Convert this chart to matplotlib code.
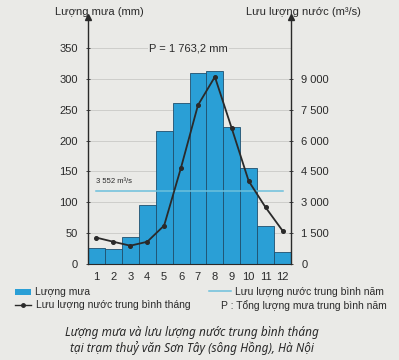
import matplotlib
matplotlib.use("Agg")
import matplotlib.pyplot as plt
from matplotlib.lines import Line2D

# Data
months = [1, 2, 3, 4, 5, 6, 7, 8, 9, 10, 11, 12]
rain_mm = [26, 25, 44, 96, 216, 261, 309, 313, 222, 156, 62, 19]
flow_m3s = [1280, 1080, 890, 1080, 1870, 4690, 7720, 9100, 6590, 4030, 2750, 1620]
flow_mean = 3552
rain_ticks = [0, 50, 100, 150, 200, 250, 300, 350]
flow_ticks = [0, 1500, 3000, 4500, 6000, 7500, 9000]
flow_ticklabels = ["0", "1 500", "3 000", "4 500", "6 000", "7 500", "9 000"]

BG = "#EAEAE7"
BAR = "#2A9FD6"
BAR_EDGE = "#1F4F6E"
INK = "#2A2A2A"
GRID = "#C9C9C6"
MEAN = "#6CC0DC"

plt.rcParams["font.family"] = ["Liberation Sans", "DejaVu Sans"]

fig = plt.figure(figsize=(3.99, 3.6), dpi=100, facecolor=BG)
ax = fig.add_axes([0.2206, 0.2667, 0.5087, 0.6856])
ax.set_facecolor(BG)
ax2 = ax.twinx()

ax.set_xlim(0.5, 12.5)
ax.set_ylim(0, 400)
ax2.set_ylim(0, 12000)

# faint grid lines behind the bars
for t in rain_ticks[1:]:
    ax.axhline(t, color=GRID, lw=0.6, zorder=0)

ax.bar(months, rain_mm, width=1.0, color=BAR, edgecolor=BAR_EDGE, linewidth=0.6, zorder=2)

ax2.plot(months, flow_m3s, color=INK, lw=1.3, marker="o", markersize=2.6, zorder=5)
ax2.plot([months[0], months[-1]], [flow_mean, flow_mean], color=MEAN, lw=1.1, zorder=4)
ax2.text(1.0, flow_mean + 300, "3 552 m³/s", fontsize=5.5, color=INK, ha="left", va="bottom")

ax.text(4.1, 350, "P = 1 763,2 mm", fontsize=8, color=INK, ha="left", va="center",
        zorder=6, bbox=dict(facecolor=BG, edgecolor="none", pad=1.0))

for a in (ax, ax2):
    a.spines["top"].set_visible(False)
    a.spines["bottom"].set_color(INK)
    a.spines["left"].set_color(INK)
    a.spines["right"].set_color(INK)
    a.spines["bottom"].set_linewidth(0.8)
ax.spines["right"].set_visible(False)
ax2.spines["left"].set_visible(False)
ax2.spines["bottom"].set_visible(False)
ax.spines["left"].set_linewidth(1.0)
ax2.spines["right"].set_linewidth(1.0)

ax.set_yticks(rain_ticks)
ax.set_yticklabels([str(t) for t in rain_ticks])
ax.tick_params(axis="y", labelsize=8, colors=INK, length=3, width=0.6, direction="inout", pad=6)
ax.set_xticks(months)
ax.tick_params(axis="x", labelsize=8, colors=INK, length=0, pad=6)

ax2.set_yticks(flow_ticks)
ax2.set_yticklabels(flow_ticklabels)
ax2.tick_params(axis="y", labelsize=8, colors=INK, length=3, width=0.6, direction="inout", pad=6)

# axis arrows
ax.plot([0], [1.0], marker="^", color=INK, markersize=5, transform=ax.transAxes, clip_on=False)
ax.plot([1], [1.0], marker="^", color=INK, markersize=5, transform=ax.transAxes, clip_on=False)

fig.text(0.248, 0.968, "Lượng mưa (mm)", fontsize=8, color=INK, ha="center", va="center")
fig.text(0.76, 0.966, "Lưu lượng nước (m³/s)", fontsize=8, color=INK, ha="center", va="center")

# legend
fs = 7.5
fig.patches.append(plt.Rectangle((0.038, 0.180), 0.040, 0.016,
                   transform=fig.transFigure, facecolor=BAR, edgecolor="none"))
fig.text(0.088, 0.188, "Lượng mưa", fontsize=fs, color=INK, va="center")
fig.lines.append(Line2D([0.038, 0.078], [0.152, 0.152], transform=fig.transFigure, color=INK, lw=1.0))
fig.lines.append(Line2D([0.058], [0.152], transform=fig.transFigure, color=INK, marker="o", markersize=2.5))
fig.text(0.09, 0.152, "Lưu lượng nước trung bình tháng", fontsize=fs, color=INK, va="center")
fig.lines.append(Line2D([0.525, 0.578], [0.193, 0.193], transform=fig.transFigure, color=MEAN, lw=1.1))
fig.text(0.588, 0.190, "Lưu lượng nước trung bình năm", fontsize=fs, color=INK, va="center")
fig.text(0.553, 0.152, "P : Tổng lượng mưa trung bình năm", fontsize=fs, color=INK, va="center")

fig.text(0.48, 0.077, "Lượng mưa và lưu lượng nước trung bình tháng", fontsize=8.5, color=INK,
         ha="center", va="center", style="italic", family=["Noto Sans", "DejaVu Sans"])
fig.text(0.48, 0.033, "tại trạm thuỷ văn Sơn Tây (sông Hồng), Hà Nội", fontsize=8.5, color=INK,
         ha="center", va="center", style="italic", family=["Noto Sans", "DejaVu Sans"])

fig.savefig("out.png", dpi=100, facecolor=BG)
